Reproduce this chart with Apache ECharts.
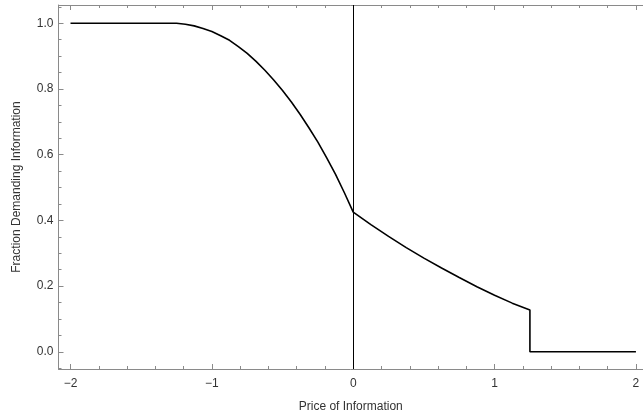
<!DOCTYPE html>
<html>
<head>
<meta charset="utf-8">
<script src="https://cdn.jsdelivr.net/npm/echarts@6/dist/echarts.min.js"></script>
<style>html,body{margin:0;padding:0;background:#fff}#c{width:643px;height:418px}</style>
</head>
<body>
<div id="c"></div>
<script>
// Data
const xValues = [-2, -1.25, -1.1875, -1.125, -1.0625, -1.0, -0.9375, -0.875, -0.8125, -0.75, -0.6875,
                 -0.625, -0.5625, -0.5, -0.4375, -0.375, -0.3125, -0.25, -0.1875, -0.125, -0.0625, 0,
                 0.125, 0.25, 0.375, 0.5, 0.625, 0.75, 0.875, 1.0, 1.125, 1.25, 1.25, 2];
const yValues = [1.0, 1.0, 0.997, 0.992, 0.984, 0.975, 0.962, 0.948, 0.929, 0.908, 0.884,
                 0.857, 0.827, 0.795, 0.760, 0.722, 0.681, 0.638, 0.590, 0.540, 0.484, 0.425,
                 0.387, 0.351, 0.317, 0.285, 0.255, 0.226, 0.198, 0.172, 0.148, 0.127, 0.0, 0.0];
const xMajorTicks = [-2, -1, 0, 1, 2];
const xMinorTicks = [-1.8, -1.6, -1.4, -1.2, -0.8, -0.6, -0.4, -0.2, 0.2, 0.4, 0.6, 0.8, 1.2, 1.4, 1.6, 1.8];
const yMajorTicks = [0, 0.2, 0.4, 0.6, 0.8, 1.0];
const yMinorTicks = [-0.05, 0.05, 0.1, 0.15, 0.25, 0.3, 0.35, 0.45, 0.5, 0.55, 0.65, 0.7, 0.75, 0.85, 0.9, 0.95, 1.05];
const xTitle = 'Price of Information';
const yTitle = 'Fraction Demanding Information';

const X_MIN = -2.085, X_MAX = 2.05, Y_MIN = -0.0525, Y_MAX = 1.0555;
const FRAME = '#8a8a8a', TXT = '#333', FONT = 'Liberation Sans, Arial, sans-serif';

function xAx(pos, ticks, len, withLabels, showLine) {
  return {
    type: 'value', position: pos, min: X_MIN, max: X_MAX,
    axisLine: {show: showLine, onZero: false, lineStyle: {color: FRAME, width: 1}},
    axisTick: {show: true, inside: true, length: len, customValues: ticks, lineStyle: {color: FRAME, width: 1}},
    axisLabel: withLabels ? {show: true, customValues: ticks, color: TXT, fontSize: 12, fontFamily: FONT, margin: 9,
      formatter: v => (v < 0 ? '\u2212' + Math.abs(v) : String(v))} : {show: false},
    splitLine: {show: false},
    name: withLabels ? xTitle : '', nameLocation: 'middle', nameGap: 32,
    nameTextStyle: {color: TXT, fontSize: 12, fontFamily: FONT}
  };
}
function yAx(pos, ticks, len, withLabels, showLine) {
  return {
    type: 'value', position: pos, min: Y_MIN, max: Y_MAX,
    axisLine: {show: showLine, onZero: false, lineStyle: {color: FRAME, width: 1}},
    axisTick: {show: true, inside: true, length: len, customValues: ticks, lineStyle: {color: FRAME, width: 1}},
    axisLabel: withLabels ? {show: true, customValues: ticks, color: TXT, fontSize: 12, fontFamily: FONT, margin: 5,
      formatter: v => v.toFixed(1)} : {show: false},
    splitLine: {show: false},
    name: withLabels ? yTitle : '', nameLocation: 'middle', nameGap: 36,
    nameTextStyle: {color: TXT, fontSize: 12, fontFamily: FONT}
  };
}

const chart = echarts.init(document.getElementById('c'), null, {renderer: 'canvas'});
chart.setOption({
  animation: false,
  backgroundColor: '#fff',
  grid: {left: 58.5, right: 0, top: 5, bottom: 49, containLabel: false},
  xAxis: [
    xAx('bottom', xMajorTicks, 5, true, true),
    xAx('bottom', xMinorTicks, 3, false, false),
    xAx('top', xMajorTicks, 5, false, true),
    xAx('top', xMinorTicks, 3, false, false)
  ],
  yAxis: [
    yAx('left', yMajorTicks, 5, true, true),
    yAx('left', yMinorTicks, 3, false, false)
  ],
  series: [{
    type: 'line', xAxisIndex: 0, yAxisIndex: 0,
    data: xValues.map((x, i) => [x, yValues[i]]),
    showSymbol: false, smooth: false,
    lineStyle: {color: '#000', width: 1.6},
    markLine: {
      silent: true, symbol: ['none', 'none'], label: {show: false},
      lineStyle: {color: '#000', width: 1, type: 'solid'},
      data: [{xAxis: 0}]
    }
  }]
});
</script>
</body>
</html>
